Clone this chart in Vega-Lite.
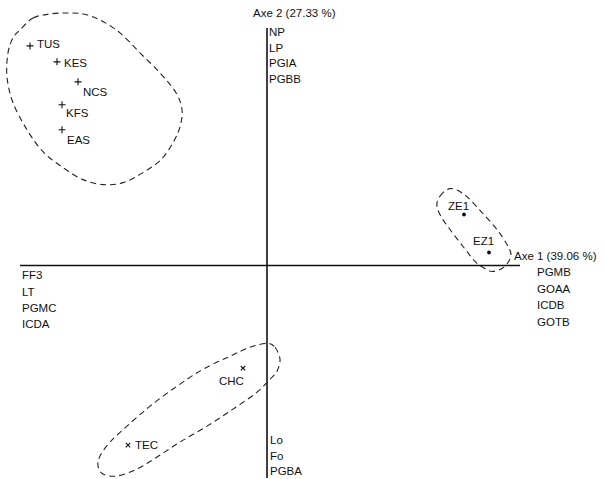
{
  "$schema": "https://vega.github.io/schema/vega-lite/v6.json",
  "width": 604,
  "height": 479,
  "autosize": {"type": "fit", "contains": "padding"},
  "padding": 0,
  "background": "white",
  "config": {
    "view": {"stroke": null},
    "text": {"font": "Liberation Sans", "fontSize": 11.5, "color": "#111"}
  },
  "datasets": {
    "axes": [
      {"x": -2.47, "y": 0, "x2": 2.53, "y2": 0},
      {"x": 0, "y": 2.38, "x2": 0, "y2": -2.13}
    ],
    "groups": [
      {"g": "A", "i": 1, "x": -2.47, "y": 2.36},
      {"g": "A", "i": 2, "x": -2.34, "y": 2.48},
      {"g": "A", "i": 3, "x": -2.17, "y": 2.52},
      {"g": "A", "i": 4, "x": -2.0, "y": 2.53},
      {"g": "A", "i": 5, "x": -1.84, "y": 2.52},
      {"g": "A", "i": 6, "x": -1.67, "y": 2.46},
      {"g": "A", "i": 7, "x": -1.47, "y": 2.33},
      {"g": "A", "i": 8, "x": -1.27, "y": 2.13},
      {"g": "A", "i": 9, "x": -1.07, "y": 1.93},
      {"g": "A", "i": 10, "x": -0.91, "y": 1.73},
      {"g": "A", "i": 11, "x": -0.85, "y": 1.56},
      {"g": "A", "i": 12, "x": -0.87, "y": 1.39},
      {"g": "A", "i": 13, "x": -0.94, "y": 1.23},
      {"g": "A", "i": 14, "x": -1.06, "y": 1.06},
      {"g": "A", "i": 15, "x": -1.24, "y": 0.93},
      {"g": "A", "i": 16, "x": -1.44, "y": 0.83},
      {"g": "A", "i": 17, "x": -1.64, "y": 0.81},
      {"g": "A", "i": 18, "x": -1.84, "y": 0.86},
      {"g": "A", "i": 19, "x": -2.04, "y": 0.98},
      {"g": "A", "i": 20, "x": -2.24, "y": 1.14},
      {"g": "A", "i": 21, "x": -2.4, "y": 1.36},
      {"g": "A", "i": 22, "x": -2.54, "y": 1.63},
      {"g": "A", "i": 23, "x": -2.6, "y": 1.89},
      {"g": "A", "i": 24, "x": -2.59, "y": 2.13},
      {"g": "A", "i": 25, "x": -2.54, "y": 2.28},
      {"g": "B", "i": 1, "x": 1.83, "y": 0.77},
      {"g": "B", "i": 2, "x": 1.76, "y": 0.73},
      {"g": "B", "i": 3, "x": 1.71, "y": 0.66},
      {"g": "B", "i": 4, "x": 1.7, "y": 0.59},
      {"g": "B", "i": 5, "x": 1.74, "y": 0.49},
      {"g": "B", "i": 6, "x": 1.83, "y": 0.36},
      {"g": "B", "i": 7, "x": 1.96, "y": 0.19},
      {"g": "B", "i": 8, "x": 2.08, "y": 0.04},
      {"g": "B", "i": 9, "x": 2.16, "y": -0.02},
      {"g": "B", "i": 10, "x": 2.25, "y": -0.06},
      {"g": "B", "i": 11, "x": 2.35, "y": -0.03},
      {"g": "B", "i": 12, "x": 2.41, "y": 0.03},
      {"g": "B", "i": 13, "x": 2.44, "y": 0.11},
      {"g": "B", "i": 14, "x": 2.4, "y": 0.21},
      {"g": "B", "i": 15, "x": 2.3, "y": 0.36},
      {"g": "B", "i": 16, "x": 2.15, "y": 0.53},
      {"g": "B", "i": 17, "x": 2.01, "y": 0.68},
      {"g": "B", "i": 18, "x": 1.91, "y": 0.75},
      {"g": "C", "i": 1, "x": 0.0, "y": -0.78},
      {"g": "C", "i": 2, "x": 0.08, "y": -0.82},
      {"g": "C", "i": 3, "x": 0.13, "y": -0.94},
      {"g": "C", "i": 4, "x": 0.1, "y": -1.06},
      {"g": "C", "i": 5, "x": 0.03, "y": -1.14},
      {"g": "C", "i": 6, "x": -0.1, "y": -1.27},
      {"g": "C", "i": 7, "x": -0.34, "y": -1.44},
      {"g": "C", "i": 8, "x": -0.6, "y": -1.61},
      {"g": "C", "i": 9, "x": -0.87, "y": -1.77},
      {"g": "C", "i": 10, "x": -1.1, "y": -1.92},
      {"g": "C", "i": 11, "x": -1.3, "y": -2.04},
      {"g": "C", "i": 12, "x": -1.5, "y": -2.11},
      {"g": "C", "i": 13, "x": -1.64, "y": -2.09},
      {"g": "C", "i": 14, "x": -1.69, "y": -2.01},
      {"g": "C", "i": 15, "x": -1.67, "y": -1.91},
      {"g": "C", "i": 16, "x": -1.57, "y": -1.77},
      {"g": "C", "i": 17, "x": -1.4, "y": -1.61},
      {"g": "C", "i": 18, "x": -1.17, "y": -1.41},
      {"g": "C", "i": 19, "x": -0.9, "y": -1.21},
      {"g": "C", "i": 20, "x": -0.64, "y": -1.04},
      {"g": "C", "i": 21, "x": -0.37, "y": -0.91},
      {"g": "C", "i": 22, "x": -0.17, "y": -0.82}
    ],
    "individuals": [
      {"name": "TUS", "kind": "plus", "x": -2.37, "y": 2.2},
      {"name": "KES", "kind": "plus", "x": -2.1, "y": 2.04},
      {"name": "NCS", "kind": "plus", "x": -1.89, "y": 1.84},
      {"name": "KFS", "kind": "plus", "x": -2.05, "y": 1.61},
      {"name": "EAS", "kind": "plus", "x": -2.05, "y": 1.36},
      {"name": "ZE1", "kind": "dot", "x": 1.97, "y": 0.51},
      {"name": "EZ1", "kind": "dot", "x": 2.22, "y": 0.13},
      {"name": "CHC", "kind": "times", "x": -0.24, "y": -1.03},
      {"name": "TEC", "kind": "times", "x": -1.39, "y": -1.8}
    ],
    "labels": [
      {"text": "TUS", "x": -2.3, "y": 2.21},
      {"text": "KES", "x": -2.03, "y": 2.02},
      {"text": "NCS", "x": -1.84, "y": 1.73},
      {"text": "KFS", "x": -2.01, "y": 1.52},
      {"text": "EAS", "x": -2.0, "y": 1.25},
      {"text": "ZE1", "x": 1.81, "y": 0.59},
      {"text": "EZ1", "x": 2.06, "y": 0.23},
      {"text": "CHC", "x": -0.48, "y": -1.17},
      {"text": "TEC", "x": -1.32, "y": -1.81},
      {"text": "Axe 2 (27.33 %)", "x": -0.14, "y": 2.52},
      {"text": "NP", "x": 0.02, "y": 2.33},
      {"text": "LP", "x": 0.02, "y": 2.17},
      {"text": "PGIA", "x": 0.02, "y": 2.02},
      {"text": "PGBB", "x": 0.02, "y": 1.86},
      {"text": "Axe 1 (39.06 %)", "x": 2.47, "y": 0.08},
      {"text": "PGMB", "x": 2.7, "y": -0.08},
      {"text": "GOAA", "x": 2.7, "y": -0.25},
      {"text": "ICDB", "x": 2.7, "y": -0.41},
      {"text": "GOTB", "x": 2.7, "y": -0.58},
      {"text": "FF3", "x": -2.45, "y": -0.11},
      {"text": "LT", "x": -2.45, "y": -0.28},
      {"text": "PGMC", "x": -2.45, "y": -0.44},
      {"text": "ICDA", "x": -2.45, "y": -0.6},
      {"text": "Lo", "x": 0.03, "y": -1.76},
      {"text": "Fo", "x": 0.03, "y": -1.92},
      {"text": "PGBA", "x": 0.03, "y": -2.07}
    ]
  },
  "encoding": {
    "x": {"field": "x", "type": "quantitative", "axis": null,
          "scale": {"domain": [-2.67, 3.37], "nice": false, "zero": false}},
    "y": {"field": "y", "type": "quantitative", "axis": null,
          "scale": {"domain": [-2.13, 2.66], "nice": false, "zero": false}}
  },
  "layer": [
    {
      "data": {"name": "axes"},
      "mark": {"type": "rule", "color": "#111", "strokeWidth": 1.6},
      "encoding": {
        "x2": {"field": "x2"},
        "y2": {"field": "y2"}
      }
    },
    {
      "data": {"name": "groups"},
      "mark": {"type": "line", "interpolate": "cardinal-closed", "color": "#222",
               "strokeWidth": 1.1, "strokeDash": [6, 4]},
      "encoding": {
        "detail": {"field": "g"},
        "order": {"field": "i", "type": "quantitative"}
      }
    },
    {
      "data": {"name": "individuals"},
      "transform": [{"filter": "datum.kind === 'plus'"}],
      "mark": {"type": "point", "shape": "M-1,0H1M0,-1V1", "size": 49,
               "filled": false, "stroke": "#111", "strokeWidth": 1.1, "opacity": 1}
    },
    {
      "data": {"name": "individuals"},
      "transform": [{"filter": "datum.kind === 'dot'"}],
      "mark": {"type": "point", "shape": "circle", "size": 15,
               "filled": true, "color": "#111", "opacity": 1}
    },
    {
      "data": {"name": "individuals"},
      "transform": [{"filter": "datum.kind === 'times'"}],
      "mark": {"type": "point", "shape": "M-1,-1L1,1M-1,1L1,-1", "size": 20,
               "filled": false, "stroke": "#111", "strokeWidth": 1.1, "opacity": 1}
    },
    {
      "data": {"name": "labels"},
      "mark": {"type": "text", "align": "left", "baseline": "middle"},
      "encoding": {
        "text": {"field": "text"}
      }
    }
  ]
}
